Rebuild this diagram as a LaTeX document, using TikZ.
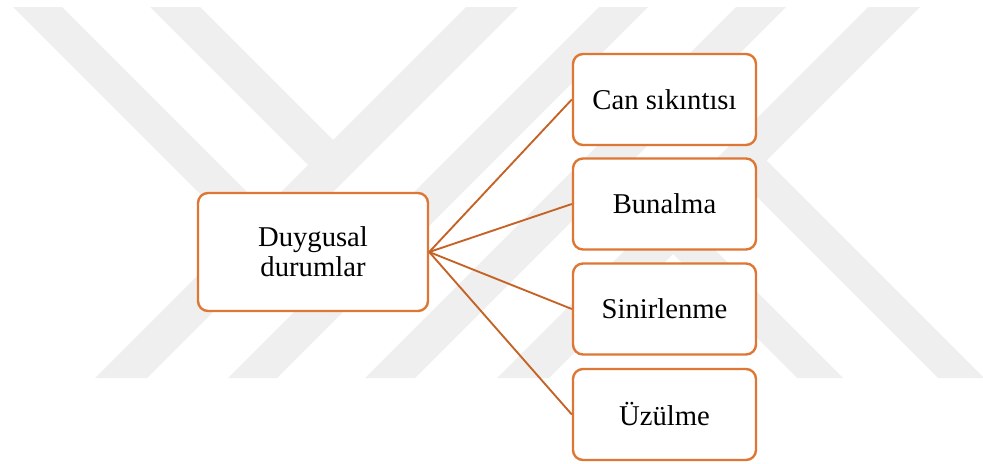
\documentclass[tikz,border=0pt]{standalone}
\usepackage{fontspec}
\setmainfont{Liberation Serif}
\definecolor{boxcol}{RGB}{221,119,51}
\definecolor{linecol}{RGB}{197,98,37}
\definecolor{wmcol}{RGB}{239,239,239}
\tikzset{
  wmband/.style={fill=wmcol, draw=none},
  mainbox/.style={draw=boxcol, line width=1.8pt, fill=white, rounded corners=7.5pt,
    minimum width=172.5pt, minimum height=88.5pt, align=center, inner sep=0pt,
    font=\fontsize{21.5}{22.5}\selectfont},
  subbox/.style={draw=boxcol, line width=1.8pt, fill=white, rounded corners=7.5pt,
    minimum width=137.25pt, minimum height=68.25pt, align=center, inner sep=0pt,
    font=\fontsize{21.5}{22.5}\selectfont},
  conn/.style={draw=linecol, line width=1.4pt}
}
\begin{document}
\begin{tikzpicture}[x=0.75pt,y=-0.75pt]
\useasboundingbox (0,0) rectangle (983,464);
\begin{scope}
\clip (0,0) rectangle (983,464);
% watermark
\fill[wmband] (466,7) -- (518,7) -- (147,378) -- (95,378) -- cycle;
\fill[wmband] (599,7) -- (648,7) -- (277,378) -- (228,378) -- cycle;
\fill[wmband] (736,7) -- (786,7) -- (415,378) -- (365,378) -- cycle;
\fill[wmband] (868,7) -- (920,7) -- (549,378) -- (497,378) -- cycle;
\fill[wmband] (13,7) -- (62,7) -- (340,285) -- (316,310) -- cycle;
\fill[wmband] (150,7) -- (200,7) -- (343,150) -- (318,175) -- cycle;
\fill[wmband] (756,150) -- (984,378) -- (938,378) -- (735,175) -- cycle;
\fill[wmband] (690,225) -- (843,378) -- (797,378) -- (669,250) -- cycle;
\end{scope}
% nodes
\node[mainbox] (dd) at (313,252) {Duygusal\\durumlar};
\node[subbox] (cs) at (664.5,99.5) {Can sıkıntısı};
\node[subbox] (bu) at (664.5,204) {Bunalma};
\node[subbox] (si) at (664.5,309) {Sinirlenme};
\node[subbox] (uz) at (664.5,414.5) {Üzülme};
% connectors
\draw[conn] (dd.east) -- (cs.west);
\draw[conn] (dd.east) -- (bu.west);
\draw[conn] (dd.east) -- (si.west);
\draw[conn] (dd.east) -- (uz.west);
\end{tikzpicture}
\end{document}
